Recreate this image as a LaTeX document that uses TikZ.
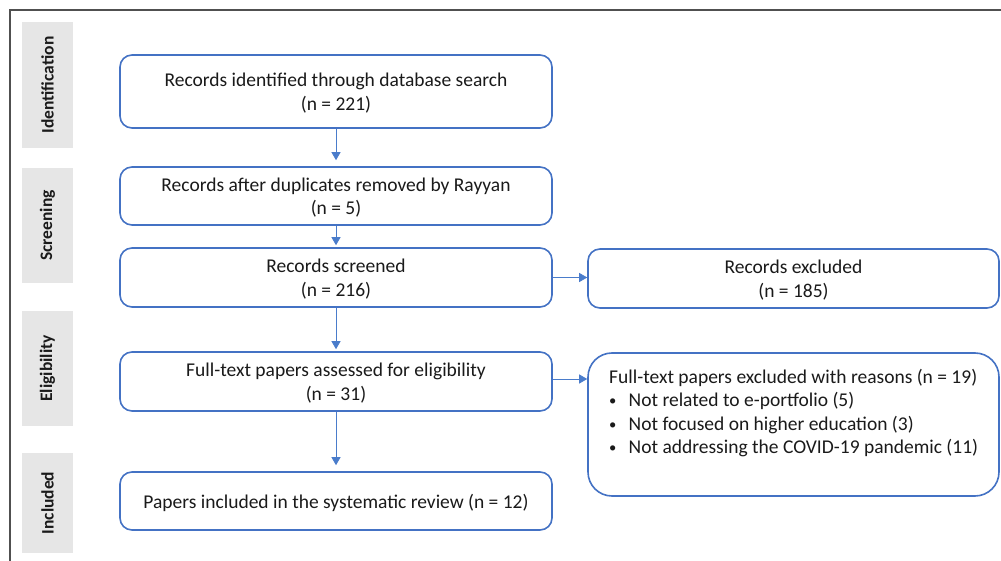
\documentclass[tikz,border=0pt]{standalone}
\usepackage{fontspec}
\setmainfont{Carlito}
\usetikzlibrary{arrows.meta}
\definecolor{boxblue}{HTML}{4472C4}
\definecolor{arrblue}{HTML}{4A7CCB}
\definecolor{sidegray}{HTML}{E6E6E6}
\definecolor{framegray}{HTML}{505050}
\definecolor{txt}{HTML}{1A1A1A}
\newcommand{\smbullet}{\makebox[19.5pt][l]{\raisebox{1pt}{\scalebox{0.75}{\textbullet}}}}
\tikzset{
  flowbox/.style={draw=boxblue, line width=1.6pt, rounded corners=12pt, fill=white,
    minimum width=432pt, align=center, inner sep=0pt, text=txt, text depth=0pt,
    font=\fontsize{19.5}{23.5}\selectfont},
  sidebox/.style={fill=sidegray, minimum width=51pt, inner sep=0pt},
  sidetext/.style={rotate=90, text=txt, font=\bfseries\fontsize{17.5}{20}\selectfont, inner sep=0pt},
  flowarrow/.style={draw=arrblue, line width=0.8pt, -{Triangle[width=9pt,length=8pt]}},
}
\begin{document}
\begin{tikzpicture}[x=1pt,y=-1pt]
\useasboundingbox (0,0) rectangle (1001,561);
% frame
\draw[framegray, line width=1.8pt] (10,565) -- (10,10) -- (1005,10);
% side labels
\node[sidebox, minimum height=126pt] (sid) at (47.5,85) {};
\node[sidetext] (tid) at (sid.center) {Identification};
\node[sidebox, minimum height=115pt] (ssc) at (47.5,225.5) {};
\node[sidetext] (tsc) at (ssc.center) {Screening};
\node[sidebox, minimum height=115pt] (sel) at (47.5,368.5) {};
\node[sidetext] (tel) at (sel.center) {Eligibility};
\node[sidebox, minimum height=100pt] (sin) at (47.5,503) {};
\node[sidetext] (tin) at (sin.center) {Included};
% main column
\node[flowbox, minimum height=73pt] (b1) at (336,91.5) {Records identified through database search\\(n = 221)};
\node[flowbox, minimum height=58pt] (b2) at (336,196) {Records after duplicates removed by Rayyan\\(n = 5)};
\node[flowbox, minimum height=59pt] (b3) at (336,277.5) {Records screened\\(n = 216)};
\node[flowbox, minimum height=59pt] (b4) at (336,381.5) {Full-text papers assessed for eligibility\\(n = 31)};
\node[flowbox, minimum height=58pt] (b5) at (336,501) {Papers included in the systematic review (n = 12)};
% right column
\node[flowbox, minimum width=411pt, minimum height=59pt] (r1) at (793.5,278.5) {Records excluded\\(n = 185)};
\node[flowbox, minimum width=411pt, minimum height=143pt, rounded corners=24pt] (r2) at (793.5,424.5) {};
\node[anchor=north west, align=left, inner sep=0pt, text=txt, font=\fontsize{19.5}{23.5}\selectfont] (r2t) at (609,369)
  {Full-text papers excluded with reasons (n = 19)\\
   \smbullet Not related to e-portfolio (5)\\
   \smbullet Not focused on higher education (3)\\
   \smbullet Not addressing the COVID-19 pandemic (11)};
% arrows
\draw[flowarrow, shorten >=6pt] (b1.south) -- (b2.north);
\draw[flowarrow, shorten >=2pt] (b2.south) -- (b3.north);
\draw[flowarrow, shorten >=2pt] (b3.south) -- (b4.north);
\draw[flowarrow, shorten >=6pt] (b4.south) -- (b5.north);
\draw[flowarrow] (b3.east) -- (b3.east -| r1.west);
\draw[flowarrow] ([yshift=2.5pt]b4.east) -- ([yshift=2.5pt]b4.east -| r2.west);
\end{tikzpicture}
\end{document}
